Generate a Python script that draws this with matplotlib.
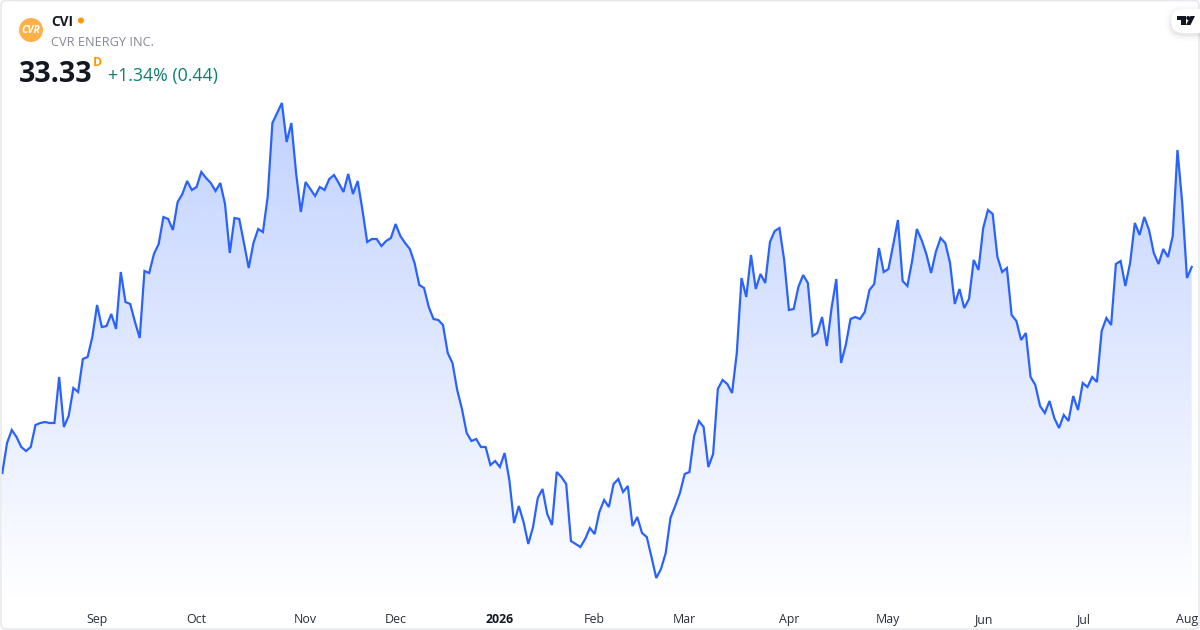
import numpy as np
import matplotlib
matplotlib.use("Agg")
import matplotlib.pyplot as plt
from matplotlib.patches import Circle, FancyBboxPatch, Polygon
from matplotlib.colors import LinearSegmentedColormap

plt.rcParams['font.family'] = ['Open Sans', 'Noto Sans', 'DejaVu Sans']

# daily close
close = [
    23.03, 24.53, 25.18, 24.83, 24.33, 24.13, 24.33, 25.43, 25.53, 25.58,
    25.53, 25.53, 27.83, 25.33, 25.88, 27.28, 27.08, 28.73, 28.83, 29.83,
    31.43, 30.33, 30.38, 30.98, 30.23, 33.08, 31.58, 31.48, 30.58, 29.78,
    33.13, 33.03, 33.98, 34.48, 35.83, 35.73, 35.18, 36.58, 36.98, 37.63,
    37.18, 37.33, 38.08, 37.78, 37.53, 37.13, 37.53, 36.48, 34.03, 35.78,
    35.73, 34.53, 33.28, 34.53, 35.23, 35.08, 36.83, 40.53, 41.03, 41.53,
    39.58, 40.53, 38.03, 36.08, 37.58, 37.23, 36.88, 37.33, 37.18, 37.73,
    37.93, 37.53, 37.08, 37.98, 36.98, 37.63, 36.18, 34.58, 34.73, 34.73,
    34.38, 34.63, 34.78, 35.48, 34.88, 34.53, 34.23, 33.53, 32.43, 32.28,
    31.33, 30.73, 30.68, 30.43, 29.03, 28.53, 27.18, 26.23, 25.03, 24.63,
    24.73, 24.33, 24.33, 23.43, 23.63, 23.33, 24.03, 22.68, 20.53, 21.38,
    20.58, 19.48, 20.33, 21.78, 22.23, 20.98, 20.43, 23.08, 22.83, 22.48,
    19.63, 19.48, 19.33, 19.73, 20.28, 19.98, 21.08, 21.68, 21.33, 22.48,
    22.73, 22.08, 22.38, 20.38, 20.83, 20.03, 19.83, 18.83, 17.78, 18.23,
    19.03, 20.78, 21.38, 22.03, 22.98, 23.08, 24.88, 25.63, 25.33, 23.33,
    23.98, 27.23, 27.68, 27.48, 27.03, 29.03, 32.78, 31.83, 33.93, 32.23,
    32.98, 32.53, 34.58, 35.13, 35.28, 33.68, 31.18, 31.23, 32.33, 32.93,
    32.53, 29.88, 30.03, 30.83, 29.38, 31.28, 32.73, 28.53, 29.43, 30.73,
    30.83, 30.73, 31.08, 32.18, 32.48, 34.28, 33.08, 33.23, 34.43, 35.68,
    32.63, 32.38, 33.63, 35.23, 34.68, 33.98, 33.03, 34.08, 34.78, 34.53,
    33.53, 31.48, 32.23, 31.28, 31.73, 33.68, 33.18, 35.28, 36.18, 35.98,
    33.83, 33.08, 33.28, 30.93, 30.63, 29.68, 30.03, 27.83, 27.43, 26.38,
    26.03, 26.63, 25.78, 25.28, 25.93, 25.63, 26.88, 26.18, 27.53, 27.33,
    27.83, 27.58, 30.13, 30.78, 30.43, 33.48, 33.63, 32.38, 33.53, 35.53,
    34.93, 35.83, 35.18, 34.03, 33.48, 34.23, 33.83, 34.88, 39.18, 36.53,
    32.78, 33.33,
]

month_pos = [20, 41, 64, 83, 105, 125, 144, 166, 187, 207, 228, 250]
month_lab = ['Sep', 'Oct', 'Nov', 'Dec', '2026', 'Feb', 'Mar', 'Apr', 'May', 'Jun', 'Jul', 'Aug']

W, H = 1200, 630
fig = plt.figure(figsize=(W/100, H/100), dpi=100, facecolor='white')

# price axes, pixel rows 0-605 of the picture
ax = fig.add_axes([0, 25/H, 1, 605/H])
x = np.arange(len(close))
dx = (1191.7 - 2.3)/(len(close) - 1)
ax.set_xlim(-2.3/dx, (W - 2.3)/dx)
ax.set_ylim(46.68 - 605*0.05, 46.68)

# gradient under the line
top = max(close)
bot = ax.get_ylim()[0]
cm = LinearSegmentedColormap.from_list('fade', [(41/255, 98/255, 1, 0.0), (41/255, 98/255, 1, 0.29)])
poly = ax.fill_between(x, close, bot, color='none', lw=0)
im = ax.imshow(np.linspace(1, 0, 256).reshape(-1, 1), cmap=cm, vmin=0, vmax=1, aspect='auto',
               extent=[x[0], x[-1], bot, top], zorder=1, interpolation='bilinear')
im.set_clip_path(poly.get_paths()[0], transform=ax.transData)

ax.plot(x, close, color='#2962FF', lw=1.6, solid_joinstyle='miter', zorder=3)

ax.set_yticks([])
ax.set_xticks(month_pos)
ax.set_xticklabels(month_lab, fontsize=8.9, color='#2a2e39')
ax.get_xticklabels()[4].set_fontweight('bold')
ax.get_xticklabels()[4].set_color('#131722')
ax.tick_params(axis='x', length=0, pad=5.5)
for s in ax.spines.values():
    s.set_visible(False)

# header and card drawn in picture pixels
ov = fig.add_axes([0, 0, 1, 1], facecolor='none')
ov.set_xlim(0, W)
ov.set_ylim(H, 0)
ov.axis('off')

ov.add_patch(FancyBboxPatch((1, 0.5), W-2, H-1.5, boxstyle='round,pad=0,rounding_size=5',
                            fc='none', ec='#e6e8ee', lw=1.1))

ov.add_patch(Circle((31, 30), 12, fc='#ffb046', ec='none'))
ov.text(31, 30.5, 'CVR', color='white', fontsize=7.5, fontweight='bold', style='italic', ha='center', va='center')
ov.text(51, 22.5, 'CVI', color='#131722', fontsize=9.8, fontweight='bold', va='center')
ov.add_patch(Circle((81, 20.5), 3, fc='#ff9800', ec='none'))
ov.text(51, 42.5, 'CVR ENERGY INC.', color='#868993', fontsize=9.2, va='center')
ov.text(19, 74, '33.33', color='#131722', fontsize=20.5, fontweight='bold', va='center')
ov.text(93, 62.5, 'D', color='#ff9800', fontsize=8.8, fontweight='bold', va='center')
ov.text(108, 76.5, '+1.34% (0.44)', color='#0b8170', fontsize=12.8, va='center')

# logo pill with soft shadow
for grow, a in [(6, 0.012), (4, 0.018), (2, 0.025), (1, 0.03)]:
    ov.add_patch(FancyBboxPatch((1171-grow, 9-grow+2), 50+2*grow, 24+2*grow,
                                boxstyle='round,pad=0,rounding_size=%d' % (12+grow),
                                fc='black', ec='none', alpha=a))
ov.add_patch(FancyBboxPatch((1171, 9), 50, 24, boxstyle='round,pad=0,rounding_size=12', fc='white', ec='none'))
ov.add_patch(Polygon([(1177, 16), (1186, 16), (1186, 25), (1181, 25), (1181, 20), (1177, 20)], fc='#131722', ec='none'))
ov.add_patch(Circle((1188.2, 18), 2, fc='#131722', ec='none'))
ov.add_patch(Polygon([(1190.5, 16), (1195, 16), (1190.5, 25), (1186, 25)], fc='#131722', ec='none'))

fig.savefig('out.png', dpi=100)
